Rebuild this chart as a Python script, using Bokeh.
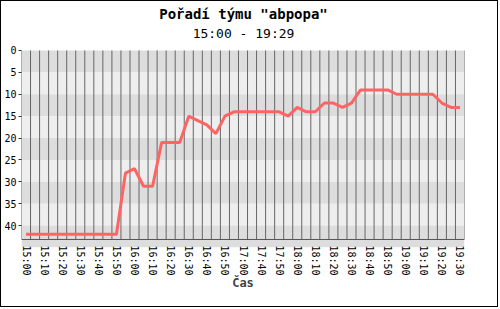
from bokeh.plotting import figure
from bokeh.models import Label, FixedTicker, Range1d, InlineStyleSheet
from bokeh.embed import file_html
from bokeh.resources import INLINE

title_text = 'Pořadí týmu "abpopa"'
subtitle_text = "15:00 - 19:29"
x_title = "Čas"

tick_labels = ["15:00", "15:10", "15:20", "15:30", "15:40", "15:50", "16:00",
               "16:10", "16:20", "16:30", "16:40", "16:50", "17:00", "17:40",
               "17:50", "18:00", "18:10", "18:20", "18:30", "18:40", "18:50",
               "19:00", "19:10", "19:20", "19:30"]

ranks = [42, 42, 42, 42, 42, 42, 42, 42, 42, 42, 42,
         28, 27, 31, 31, 21, 21, 21, 15, 16, 17, 19, 15, 14,
         14, 14, 14, 14, 14, 15, 13, 14, 14, 12, 12, 13, 12,
         9, 9, 9, 9, 10, 10, 10, 10, 10, 12, 13, 13]

y_ticks = [0, 5, 10, 15, 20, 25, 30, 35, 40]
y_max = 45
axis_y = 43.17
y_top = -11.19   # white title space above the banded plot area

n = len(ranks)
xs = list(range(n))

p = figure(width=498, height=307, output_backend="svg", toolbar_location=None,
           title=None,
           x_range=Range1d(-0.5, n - 0.5), y_range=Range1d(y_max, y_top),
           min_border_left=19, min_border_right=35, min_border_top=0,
           min_border_bottom=61, background_fill_color="white",
           border_fill_color="white", outline_line_color=None)
p.stylesheets = [InlineStyleSheet(css=":host { border: 1px solid black; }")]

# alternating bands
band_edges = y_ticks + [y_max]
tops = band_edges[:-1]
bottoms = band_edges[1:]
colors = ["#dddddd" if k % 2 == 0 else "#eeeeee" for k in range(len(tops))]
p.quad(left=-0.5, right=n - 0.5, top=tops, bottom=bottoms, fill_color=colors,
       line_color=None)

# vertical grid lines at slot boundaries
gx = [i + 0.5 for i in range(-1, n)]
p.segment(x0=gx, y0=[0] * len(gx), x1=gx, y1=[axis_y] * len(gx),
          line_color="#666666", line_width=1)
# x axis line
p.segment(x0=[-0.5], y0=[axis_y], x1=[n - 0.5], y1=[axis_y],
          line_color="#555555", line_width=1)

p.line(xs, ranks, line_color="#ff6464", line_width=3)

p.xgrid.visible = False
p.ygrid.visible = False

yax = p.yaxis[0]
yax.ticker = FixedTicker(ticks=y_ticks)
yax.axis_line_color = None
yax.major_tick_line_color = "#333333"
yax.major_tick_out = 3
yax.major_tick_in = 0
yax.minor_tick_line_color = None
yax.major_label_standoff = 2
yax.major_label_text_font = "DejaVu Sans Mono"
yax.major_label_text_font_size = "10px"
yax.major_label_text_color = "black"

xax = p.xaxis[0]
tick_pos = list(range(0, n, 2))
xax.ticker = FixedTicker(ticks=tick_pos)
xax.major_label_overrides = {t: lab for t, lab in zip(tick_pos, tick_labels)}
xax.major_label_orientation = "vertical"
xax.axis_line_color = None
xax.major_tick_line_color = None
xax.minor_tick_line_color = None
xax.major_tick_out = 0
xax.major_tick_in = 0
xax.major_label_standoff = -2
xax.major_label_text_font = "DejaVu Sans Mono"
xax.major_label_text_font_size = "10px"
xax.major_label_text_color = "black"
xax.axis_label = x_title
xax.axis_label_text_font = "DejaVu Sans Mono"
xax.axis_label_text_font_style = "bold"
xax.axis_label_text_font_size = "12px"
xax.axis_label_standoff = -3

# titles in frame-relative screen units (y measured up from frame bottom)
p.add_layout(Label(x=222, y=234, x_units="screen", y_units="screen", text=title_text,
                   text_align="center", text_baseline="middle",
                   text_font="DejaVu Sans Mono", text_font_style="bold",
                   text_font_size="14px", text_color="black"))
p.add_layout(Label(x=222, y=214, x_units="screen", y_units="screen", text=subtitle_text,
                   text_align="center", text_baseline="middle",
                   text_font="DejaVu Sans Mono", text_font_size="13px",
                   text_color="black"))

open("out.html", "w").write(file_html(p, INLINE))
